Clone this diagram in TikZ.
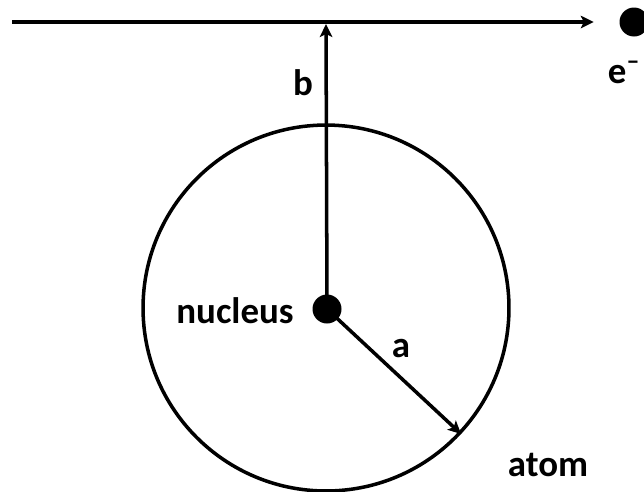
\documentclass[tikz,border=0pt]{standalone}
\usepackage{fontspec}
\setmainfont{Carlito}
\usepackage{tikz}
\usetikzlibrary{arrows.meta,positioning,calc}

\begin{document}
\begin{tikzpicture}[
    x=0.02cm, y=-0.02cm,
    line width=2pt,
    arrow/.style={-{Stealth[length=0.26cm, width=0.25cm, inset=0.06cm]}, line width=2pt},
    dot/.style={circle, fill=black, inner sep=0pt, minimum size=0.58cm},
    lbl/.style={font=\fontsize{21}{25}\selectfont\bfseries}
]
\useasboundingbox (0,0) rectangle (644,491);
\clip (0,0) rectangle (644,491);

\node[circle, draw, inner sep=0pt, minimum size=7.32cm] (atom) at (326,308) {};
\node[dot] (nuc) at (327,309) {};
\node[dot] (el) at (634,22) {};
\coordinate (start) at (12,22);
\coordinate (foot) at (326,24);

\draw[arrow, shorten >=0.48cm] (start) -- (el);
\draw[arrow] (nuc.center) -- (foot);
\draw[arrow] (nuc.center) -- (atom.-43.7);

\node[lbl, anchor=base] (b) at (303,95) {b};
\node[lbl, anchor=base] (a) at (401,357) {a};
\node[lbl, anchor=base] (nucleus) at (235,323) {nucleus};
\node[lbl, anchor=base] (atomlbl) at (548,476) {atom};
\node[lbl, anchor=base east, inner sep=0pt] (elbl) at (642,83) {e\textsuperscript{--}};
\end{tikzpicture}
\end{document}
